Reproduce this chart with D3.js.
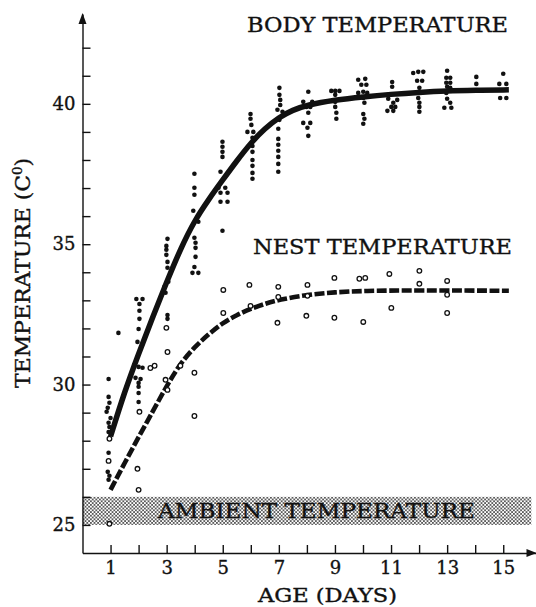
<!DOCTYPE html>
<html>
<head>
<meta charset="utf-8">
<script src="https://cdn.jsdelivr.net/npm/d3@7"></script>
<style>
  body { margin: 0; background: #fff; }
  text { font-family: "DejaVu Serif", serif; fill: #111; stroke: #111; stroke-width: 0.35px; }
</style>
</head>
<body>
<svg id="chart" width="536" height="607"></svg>
<script>

// fitted curves
const bodyCurveAge  = [1, 1.5, 2, 2.5, 3, 3.5, 4, 4.5, 5, 5.5, 6, 6.5, 7, 7.5, 8, 9, 10, 11, 12, 13, 14, 15.2]
const bodyCurveTemp = [28.15, 29.75, 31.1, 32.4, 33.65, 34.85, 35.85, 36.6, 37.29, 37.97, 38.61, 39.12, 39.52, 39.78, 39.96, 40.14, 40.25, 40.34, 40.41, 40.46, 40.48, 40.5]

const nestCurveAge  = [1, 1.5, 2, 2.5, 3, 3.5, 4, 4.5, 5, 5.5, 6, 6.5, 7, 8, 9, 10, 12, 15.2]
const nestCurveTemp = [26.25, 27.2, 28.13, 29.03, 29.95, 30.77, 31.34, 31.8, 32.2, 32.48, 32.7, 32.88, 33.02, 33.2, 33.29, 33.34, 33.36, 33.34]

// individual body temperatures (filled dots)
const bodyPtsAge = [
  0.93,0.93,0.96,0.9,0.86,1.0,0.93,0.96,0.93,0.93,0.9,0.96,0.93,
  1.28,
  1.92,2.14,2.03,2.03,2.03,2.0,1.96,1.85,2.0,2.14,1.89,2.07,2.0,2.0,2.0,2.0,
  3.03,2.99,2.99,2.99,3.03,3.03,3.06,2.92,2.96,3.03,3.03,
  3.99,3.99,3.99,3.95,4.13,3.99,4.03,4.03,4.03,3.99,3.92,4.13,
  4.99,4.99,4.99,4.99,4.92,4.85,5.09,4.92,5.17,4.92,5.17,4.99,
  5.99,5.99,6.02,5.88,6.09,6.06,6.06,6.06,6.06,6.06,6.06,6.06,
  7.02,7.02,7.05,7.05,6.95,7.13,7.02,6.98,6.98,6.98,6.98,6.98,6.98,6.98,
  8.05,7.87,8.19,7.98,8.12,8.05,7.87,8.12,8.02,8.05,
  8.87,9.01,9.16,9.01,9.01,9.01,9.05,9.05,
  9.83,10.08,9.94,10.12,10.01,9.83,10.15,10.01,10.05,10.01,10.05,10.01,
  11.04,11.04,10.9,11.22,11.08,11.01,11.15,10.87,11.08,
  11.79,11.97,12.15,11.93,12.11,12.01,12.01,11.97,12.01,12.01,12.01,
  13.0,12.97,13.11,12.97,13.11,13.0,13.11,12.97,13.0,13.11,12.9,13.15,
  14.04,14.04,
  15.0,14.86,15.11,14.89,15.11
]
const bodyPtsTemp = [
  30.20,29.56,29.35,29.17,29.03,28.81,28.64,28.49,28.31,27.57,26.89,26.75,26.61,
  31.84,
  33.05,33.05,32.87,32.63,32.34,31.98,31.52,30.70,30.63,30.60,30.24,30.20,30.06,29.92,29.70,29.38,
  35.19,34.94,34.80,34.62,34.37,34.16,33.66,33.48,33.27,32.48,32.34,
  37.51,37.01,36.76,36.19,35.80,35.23,35.05,34.87,34.55,34.19,33.98,33.98,
  38.65,38.47,38.29,38.11,37.58,37.01,37.01,36.83,36.83,36.51,36.51,35.48,
  39.64,39.47,39.25,39.00,39.00,38.79,38.50,38.29,38.00,37.79,37.54,37.33,
  40.57,40.32,40.14,39.96,39.79,39.72,39.43,39.11,38.75,38.54,38.33,38.11,37.86,37.58,
  40.43,40.07,40.07,39.89,39.89,39.68,39.32,39.32,39.15,38.86,
  40.46,40.46,40.46,40.32,40.07,39.89,39.68,39.47,
  40.86,40.89,40.68,40.68,40.43,40.39,40.39,40.21,40.04,39.64,39.47,39.29,
  40.78,40.61,40.18,40.14,40.04,39.89,39.89,39.75,39.75,
  41.10,41.14,41.14,40.82,40.82,40.57,40.39,40.21,40.04,39.89,39.72,
  41.18,40.93,40.93,40.75,40.75,40.61,40.57,40.39,40.18,40.04,39.86,39.86,
  40.96,40.71,
  41.07,40.71,40.71,40.21,40.21
]

// individual nest temperatures (open circles)
const nestPtsAge  = [0.96,0.93,0.96, 2.03,1.96,2.0, 2.42,2.57, 2.99,3.03,2.96,3.03, 3.49, 3.99,3.99, 5.02,5.02, 5.95,5.99, 6.98,6.98,6.95, 8.02,8.02,7.98, 8.98,8.98, 9.87,10.08,10.01, 10.94,11.01, 12.01,12.01, 13.0,13.0,13.0]
const nestPtsTemp = [28.07,27.28,25.04, 29.03,27.0,26.25, 30.59,30.67, 32.02,31.16,30.17,29.81, 30.67, 30.42,28.88, 33.37,32.55, 33.55,32.80, 33.48,33.12,32.20, 33.55,33.16,32.45, 33.80,32.38, 33.77,33.80,32.23, 33.94,32.73, 34.05,33.59, 33.69,33.20,32.55]

const ambientTemp = [25, 26]
const ambientAge = [0, 16]

const xTicks = d3.range(1, 16)
const xLabels = [1, 3, 5, 7, 9, 11, 13, 15]
const yTicks = d3.range(25, 43)
const yLabels = [25, 30, 35, 40]

const svg = d3.select('#chart')

const x = d3.scaleLinear().domain([0, 16.15]).range([82.5, 535.5])
const y = d3.scaleLinear().domain([24, 43.2]).range([553, 14])

// stipple for the ambient band
const pat = svg.append('defs').append('pattern')
  .attr('id', 'stipple')
  .attr('patternUnits', 'userSpaceOnUse')
  .attr('width', 3.6).attr('height', 3.6)
pat.append('circle').attr('cx', 0.9).attr('cy', 0.9).attr('r', 0.85).attr('fill', '#111')
pat.append('circle').attr('cx', 2.7).attr('cy', 2.7).attr('r', 0.85).attr('fill', '#111')

svg.append('rect')
  .attr('x', x(ambientAge[0]))
  .attr('width', x(ambientAge[1]) - x(ambientAge[0]))
  .attr('y', y(ambientTemp[1]))
  .attr('height', y(ambientTemp[0]) - y(ambientTemp[1]))
  .attr('fill', 'url(#stipple)')

svg.append('text')
  .attr('x', 158).attr('y', 518)
  .attr('font-size', 20)
  .attr('textLength', 317)
  .attr('lengthAdjust', 'spacingAndGlyphs')
  .text('AMBIENT TEMPERATURE')

// axes
const yAxis = svg.append('g')
  .attr('transform', `translate(${x(0)},0)`)
  .call(d3.axisLeft(y).tickValues(yTicks).tickSize(-8).tickSizeOuter(0).tickPadding(7)
    .tickFormat(d => yLabels.includes(d) ? d : ''))
const xAxis = svg.append('g')
  .attr('transform', `translate(0,${y(24)})`)
  .call(d3.axisBottom(x).tickValues(xTicks).tickSize(-8).tickSizeOuter(0).tickPadding(8)
    .tickFormat(d => xLabels.includes(d) ? d : ''))

for (const g of [yAxis, xAxis]) {
  g.attr('font-family', null).attr('font-size', 18)
  g.selectAll('path, line').attr('stroke', '#111').attr('stroke-width', 1.4)
  g.selectAll('text').attr('fill', '#111')
}

// arrow heads
svg.append('path')
  .attr('d', `M${x(0) - 4},${y(43.2) + 10}L${x(0)},${y(43.2) - 1}L${x(0) + 4},${y(43.2) + 10}Z`)
  .attr('fill', '#111')
svg.append('path')
  .attr('d', `M${x(16.15) - 9},${y(24) - 4}L${x(16.15) + 1},${y(24)}L${x(16.15) - 9},${y(24) + 4}Z`)
  .attr('fill', '#111')

// body temperature
svg.append('g')
  .selectAll('circle')
  .data(d3.zip(bodyPtsAge, bodyPtsTemp))
  .join('circle')
    .attr('cx', d => x(d[0]))
    .attr('cy', d => y(d[1]))
    .attr('r', 2.3)
    .attr('fill', '#111')

const line = d3.line().x(d => x(d[0])).y(d => y(d[1])).curve(d3.curveBasis)

svg.append('path')
  .datum(d3.zip(bodyCurveAge, bodyCurveTemp))
  .attr('d', line)
  .attr('fill', 'none')
  .attr('stroke', '#111')
  .attr('stroke-width', 5.5)

// nest temperature
svg.append('path')
  .datum(d3.zip(nestCurveAge, nestCurveTemp))
  .attr('d', line)
  .attr('fill', 'none')
  .attr('stroke', '#111')
  .attr('stroke-width', 4.6)
  .attr('stroke-dasharray', '10,2.5')

svg.append('g')
  .selectAll('circle')
  .data(d3.zip(nestPtsAge, nestPtsTemp))
  .join('circle')
    .attr('cx', d => x(d[0]))
    .attr('cy', d => y(d[1]))
    .attr('r', 2.3)
    .attr('fill', '#fff')
    .attr('stroke', '#111')
    .attr('stroke-width', 1.3)

// labels
svg.append('text')
  .attr('x', 247).attr('y', 32)
  .attr('font-size', 20)
  .attr('textLength', 261)
  .attr('lengthAdjust', 'spacingAndGlyphs')
  .text('BODY TEMPERATURE')

svg.append('text')
  .attr('x', 253).attr('y', 254)
  .attr('font-size', 21)
  .attr('textLength', 259)
  .attr('lengthAdjust', 'spacingAndGlyphs')
  .text('NEST TEMPERATURE')

svg.append('text')
  .attr('x', 258).attr('y', 602)
  .attr('font-size', 18)
  .attr('textLength', 139)
  .attr('lengthAdjust', 'spacingAndGlyphs')
  .text('AGE (DAYS)')

const yTitle = svg.append('text')
  .attr('transform', 'translate(30,273) rotate(-90)')
  .attr('text-anchor', 'middle')
  .attr('font-size', 20)
  .attr('textLength', 230)
  .attr('lengthAdjust', 'spacingAndGlyphs')
yTitle.append('tspan').text('TEMPERATURE (C')
yTitle.append('tspan').attr('font-size', 12).attr('dy', -8).text('0')
yTitle.append('tspan').attr('dy', 8).text(')')

</script>
</body>
</html>
